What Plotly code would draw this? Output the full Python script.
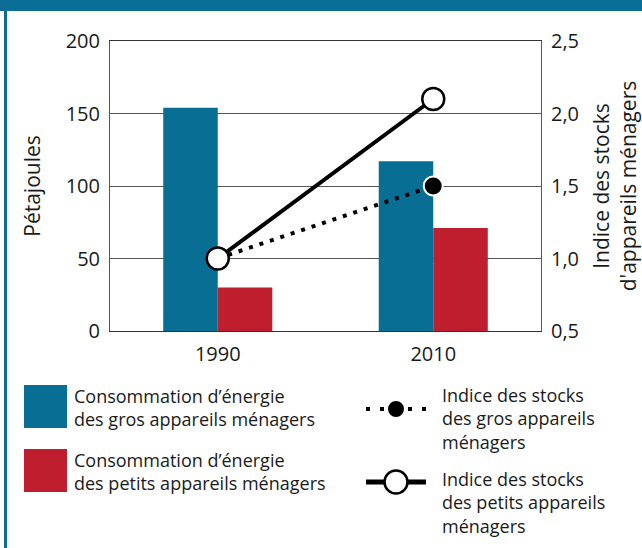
import plotly.graph_objects as go

# ---- data ----
years = ["1990", "2010"]
energie_gros = [154, 117]      # Pétajoules
energie_petits = [30, 71]      # Pétajoules
indice_gros = [1.0, 1.5]
indice_petits = [1.0, 2.1]

left_ticks = [0, 50, 100, 150, 200]
right_ticks = [0.5, 1.0, 1.5, 2.0, 2.5]
right_tick_text = ["0,5", "1,0", "1,5", "2,0", "2,5"]

BLUE = "#086e94"
RED = "#be1e2d"
TEAL = "#0a6e96"
FONT = "Open Sans"
TXT = "#1a1a1a"

W, H = 642, 548
L, R, T, B = 110, 101, 41, 217
PW, PH = W - L - R, H - T - B


def px(x):
    return (x - L) / PW


def py(y):
    return (H - B - y) / PH


fig = go.Figure()
fig.add_trace(go.Bar(x=years, y=energie_gros, marker=dict(color=BLUE, line=dict(width=0)),
                     name="gros", showlegend=False))
fig.add_trace(go.Bar(x=years, y=energie_petits, marker=dict(color=RED, line=dict(width=0)),
                     name="petits", showlegend=False))
fig.add_trace(go.Scatter(x=years, y=indice_gros, yaxis="y2", mode="lines+markers",
                         line=dict(color="black", width=4, dash="4px,7px"),
                         marker=dict(symbol="circle", size=19, color="black",
                                     line=dict(color="white", width=2)),
                         showlegend=False))
fig.add_trace(go.Scatter(x=years, y=indice_petits, yaxis="y2", mode="lines+markers",
                         line=dict(color="black", width=4),
                         marker=dict(symbol="circle", size=22, color="white",
                                     line=dict(color="black", width=2.5)),
                         showlegend=False))

shapes = []
annotations = []

# frame decorations
shapes.append(dict(type="rect", xref="paper", yref="paper", x0=px(0), x1=px(W), y0=py(0), y1=py(11),
                   fillcolor=TEAL, line=dict(width=0), layer="above"))
shapes.append(dict(type="rect", xref="paper", yref="paper", x0=px(4), x1=px(7), y0=py(0), y1=py(H),
                   fillcolor=TEAL, line=dict(width=0), layer="above"))

# legend - squares
shapes.append(dict(type="rect", xref="paper", yref="paper", x0=px(24), x1=px(67), y0=py(385), y1=py(428),
                   fillcolor=BLUE, line=dict(width=0)))
shapes.append(dict(type="rect", xref="paper", yref="paper", x0=px(24), x1=px(67), y0=py(449), y1=py(492),
                   fillcolor=RED, line=dict(width=0)))
# legend - dotted line symbol
shapes.append(dict(type="line", xref="paper", yref="paper", x0=px(366), x1=px(426), y0=py(409), y1=py(409),
                   line=dict(color="black", width=4, dash="4px,10px")))
r = 9
shapes.append(dict(type="circle", xref="paper", yref="paper", x0=px(396 - r), x1=px(396 + r),
                   y0=py(409 + r), y1=py(409 - r), fillcolor="black", line=dict(color="white", width=2)))
# legend - solid line symbol
shapes.append(dict(type="line", xref="paper", yref="paper", x0=px(366), x1=px(426), y0=py(482), y1=py(482),
                   line=dict(color="black", width=5)))
r = 11.5
shapes.append(dict(type="circle", xref="paper", yref="paper", x0=px(396 - r), x1=px(396 + r),
                   y0=py(482 + r), y1=py(482 - r), fillcolor="white", line=dict(color="black", width=2.5)))

legend_texts = [
    (72, 407.5, "Consommation d’énergie<br>des gros appareils ménagers"),
    (72, 471.5, "Consommation d’énergie<br>des petits appareils ménagers"),
    (440, 418.5, "Indice des stocks<br>des gros appareils<br>ménagers"),
    (440, 502, "Indice des stocks<br>des petits appareils<br>ménagers"),
]
for x, y, t in legend_texts:
    annotations.append(dict(text=t, xref="paper", yref="paper", x=px(x), y=py(y), xanchor="left",
                            yanchor="middle", align="left", showarrow=False,
                            font=dict(family=FONT, size=18, color=TXT)))

fig.update_layout(
    width=W, height=H,
    margin=dict(l=L, r=R, t=T, b=B, autoexpand=False),
    paper_bgcolor="white", plot_bgcolor="white",
    barmode="group", bargap=0.494, bargroupgap=0,
    font=dict(family=FONT, size=20, color=TXT),
    showlegend=False,
    xaxis=dict(type="category", showline=True, linecolor="#333", linewidth=1, mirror=True,
               showgrid=False, ticks="", ticklabelstandoff=5,
               tickfont=dict(size=20, color=TXT)),
    yaxis=dict(range=[0, 200], tickvals=left_ticks, showline=True, linecolor="#555", linewidth=1,
               showgrid=True, gridcolor="#555", gridwidth=1, zeroline=False, ticks="",
               ticklabelstandoff=5, tickfont=dict(size=20, color=TXT),
               title=dict(text="Pétajoules", font=dict(size=21, color=TXT), standoff=19)),
    yaxis2=dict(range=[0.5, 2.5], tickvals=right_ticks, ticktext=right_tick_text, overlaying="y",
                side="right", showline=True, linecolor="#555", linewidth=1, showgrid=False,
                zeroline=False, ticks="", ticklabelstandoff=5, tickfont=dict(size=20, color=TXT),
                title=dict(text="Indice des stocks<br>d'appareils ménagers",
                           font=dict(size=21, color=TXT), standoff=17)),
    shapes=shapes,
    annotations=annotations,
)

fig.write_html("out.html", config={"displayModeBar": False},
               post_script="document.body.style.margin='0';document.body.style.overflow='hidden';")
